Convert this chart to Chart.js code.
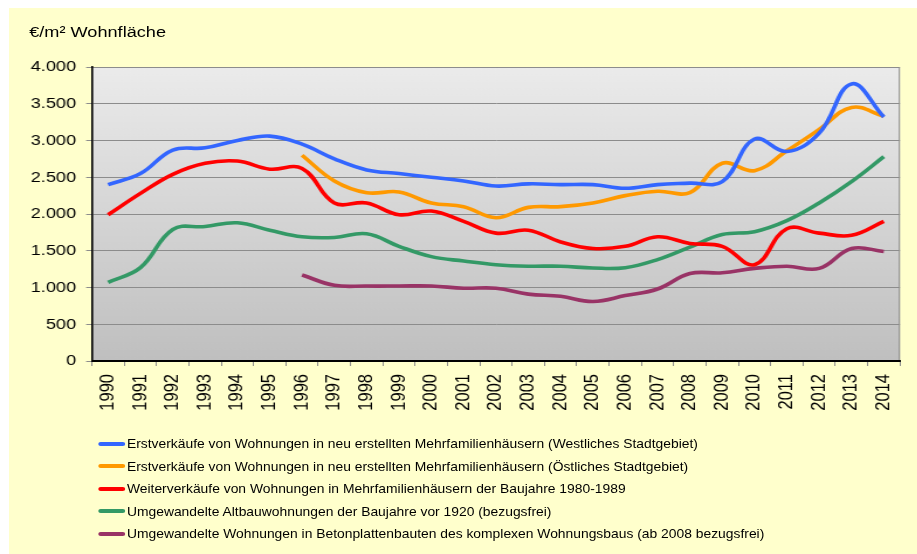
<!DOCTYPE html>
<html>
<head>
<meta charset="utf-8">
<script src="https://cdn.jsdelivr.net/npm/chart.js@4/dist/chart.umd.min.js"></script>
<style>
  html, body { margin: 0; padding: 0; background: #fff; }
  body { width: 917px; height: 554px; overflow: hidden; position: relative; font-family: "Liberation Sans", Arial, sans-serif; color: #000; }
  #bg { position: absolute; left: 9px; top: 8px; right: 0; bottom: 0; background: #ffffcc; }
  /* the original picture is stretched sideways, so draw narrow and widen */
  #wrap { position: absolute; left: 0; top: 0; width: 784px; height: 554px; transform: scaleX(1.17); transform-origin: 0 0; }
  #chart { position: absolute; left: 0; top: 0; }
  #unit { position: absolute; left: 25px; top: 24px; font-size: 15.5px; line-height: 16px; white-space: nowrap; }
  #legend { position: absolute; left: 84px; top: 0; }
  .row { position: absolute; left: 0; height: 14px; line-height: 14px; font-size: 11.85px; white-space: nowrap; }
  .sw { display: inline-block; width: 23px; height: 4px; border-radius: 2px; vertical-align: middle; margin-right: 1.5px; position: relative; top: -1px; }
</style>
</head>
<body>
<div id="bg"></div>
<div id="wrap">
  <div id="unit">€/m² Wohnfläche</div>
  <canvas id="chart" width="784" height="430"></canvas>
  <div id="legend"></div>
</div>
<script>
const years = ['1990', '1991', '1992', '1993', '1994', '1995', '1996', '1997', '1998', '1999',
  '2000', '2001', '2002', '2003', '2004', '2005', '2006', '2007', '2008', '2009',
  '2010', '2011', '2012', '2013', '2014'];

const westNeubau = [2400, 2550, 2870, 2900, 3000, 3060, 2950, 2750, 2600, 2550,
  2500, 2450, 2380, 2410, 2400, 2400, 2350, 2400, 2420, 2440,
  3020, 2850, 3100, 3770, 3320];

const ostNeubau = [null, null, null, null, null, null, 2800, 2450, 2290, 2300,
  2150, 2100, 1950, 2090, 2100, 2150, 2250, 2310, 2290, 2690,
  2590, 2860, 3150, 3450, 3330];

const weiterverkauf = [1990, 2280, 2540, 2690, 2720, 2610, 2620, 2150, 2150, 1990,
  2040, 1900, 1740, 1780, 1620, 1530, 1560, 1690, 1600, 1560,
  1310, 1800, 1740, 1710, 1900];

const altbau = [1070, 1270, 1790, 1830, 1880, 1780, 1690, 1680, 1730, 1560,
  1420, 1360, 1310, 1290, 1290, 1265, 1270, 1380, 1550, 1720,
  1760, 1910, 2150, 2440, 2780];

const plattenbau = [null, null, null, null, null, null, 1170, 1030, 1020, 1020,
  1020, 990, 990, 910, 880, 810, 890, 980, 1190, 1200,
  1260, 1290, 1260, 1530, 1490];

const seriesNames = [
  'Erstverkäufe von Wohnungen in neu erstellten Mehrfamilienhäusern (Westliches Stadtgebiet)',
  'Erstverkäufe von Wohnungen in neu erstellten Mehrfamilienhäusern (Östliches Stadtgebiet)',
  'Weiterverkäufe von Wohnungen in Mehrfamilienhäusern der Baujahre 1980-1989',
  'Umgewandelte Altbauwohnungen der Baujahre vor 1920 (bezugsfrei)',
  'Umgewandelte Wohnungen in Betonplattenbauten des komplexen Wohnungsbaus (ab 2008 bezugsfrei)'
];
const seriesColors = ['#3366ff', '#ff9900', '#ff0000', '#339966', '#993366'];
const seriesValues = [westNeubau, ostNeubau, weiterverkauf, altbau, plattenbau];

const yTicks = [0, 500, 1000, 1500, 2000, 2500, 3000, 3500, 4000];

// 4000 -> "4.000"
const fmt = (v) => String(v).replace(/\B(?=(\d{3})+(?!\d))/g, '.');

/**
 * Grey gradient behind the plot, grey frame on top/right
 */
const plotBackground = {
  id: 'plotBackground',
  beforeDraw(chart) {
    const { ctx, chartArea: a } = chart;
    const g = ctx.createLinearGradient(0, a.top, 0, a.bottom);
    g.addColorStop(0, '#ebebeb');
    g.addColorStop(1, '#bfbfbf');
    ctx.save();
    ctx.fillStyle = g;
    ctx.fillRect(a.left, a.top, a.right - a.left, a.bottom - a.top);
    ctx.strokeStyle = '#8c8c8c';
    ctx.lineWidth = 1;
    ctx.beginPath();
    ctx.moveTo(a.left, a.top + 0.5);
    ctx.lineTo(a.right - 0.5, a.top + 0.5);
    ctx.lineTo(a.right - 0.5, a.bottom);
    ctx.stroke();
    ctx.restore();
  }
};

const datasets = seriesValues.map((data, i) => ({
  label: seriesNames[i],
  data,
  borderColor: seriesColors[i],
  backgroundColor: seriesColors[i],
  borderWidth: 3.6,
  pointRadius: 0,
  tension: 0.4,
  fill: false
}));

const chart = new Chart(document.getElementById('chart'), {
  type: 'line',
  data: { labels: years, datasets },
  options: {
    responsive: false,
    animation: false,
    devicePixelRatio: 1,
    layout: { padding: { top: 67, right: 14.8, bottom: 0, left: 0 } },
    plugins: { legend: { display: false }, tooltip: { enabled: false } },
    scales: {
      x: {
        offset: true,
        grid: { display: true, offset: true, drawOnChartArea: false, tickLength: 5, color: '#8c8c8c' },
        border: { color: '#000', width: 2 },
        ticks: {
          color: '#000', font: { family: '"Liberation Sans", Arial, sans-serif', size: 16.5 },
          minRotation: 90, maxRotation: 90, padding: 8, autoSkip: false
        },
        afterFit(scale) { scale.height = 69; }
      },
      y: {
        min: 0, max: 4000,
        afterBuildTicks(scale) { scale.ticks = yTicks.map(v => ({ value: v })); },
        grid: { color: '#8c8c8c', tickLength: 5, drawTicks: true },
        border: { color: '#000', width: 1.6 },
        ticks: {
          color: '#000', font: { family: '"Liberation Sans", Arial, sans-serif', size: 15.5 },
          padding: 8.6, callback: (v) => fmt(v)
        },
        afterFit(scale) { scale.width = 78.6; }
      }
    }
  },
  plugins: [plotBackground]
});

/**
 * Legend as text rows below the chart
 */
const legendRowsY = [444, 466.5, 489, 511.5, 534];
const legendEl = document.getElementById('legend');
chart.data.datasets.forEach((ds, i) => {
  const row = document.createElement('div');
  row.className = 'row';
  row.style.top = (legendRowsY[i] - 7) + 'px';
  const sw = document.createElement('span');
  sw.className = 'sw';
  sw.style.background = ds.borderColor;
  row.appendChild(sw);
  row.appendChild(document.createTextNode(ds.label));
  legendEl.appendChild(row);
});
</script>
</body>
</html>
